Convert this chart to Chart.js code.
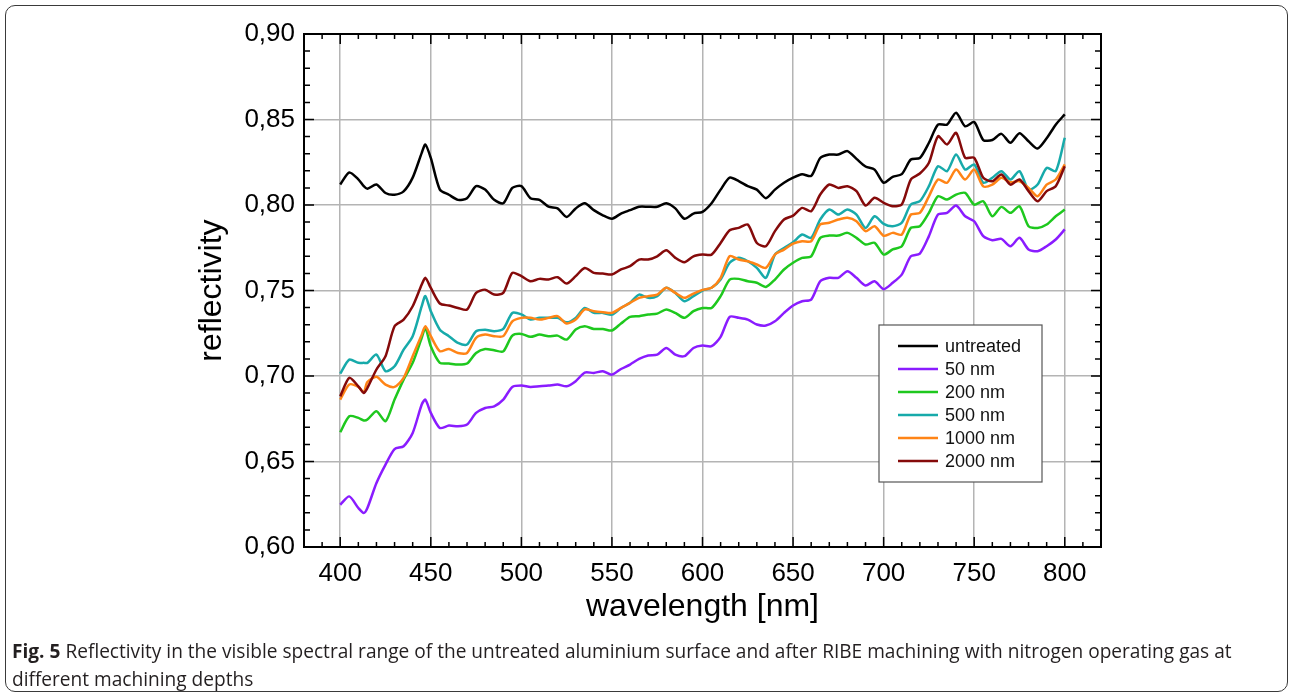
<!DOCTYPE html>
<html>
<head>
<meta charset="utf-8">
<script src="https://cdn.jsdelivr.net/npm/chart.js@4"></script>
<style>
  body { margin: 0; background: #fff; }
  #frame { position: absolute; left: 5px; top: 5px; width: 1281px; height: 685px; border: 1.5px solid #3a3a3a; border-radius: 10px; }
  #chart { position: absolute; left: 0; top: 0; }
  #caption { position: absolute; left: 12px; top: 637px; width: 1250px; font: 19.1px "Open Sans", sans-serif; line-height: 28px; color: #231f20; }
</style>
</head>
<body>
<div id="frame"></div>
<canvas id="chart" width="1293" height="640"></canvas>
<div id="caption"><b>Fig. 5</b> Reflectivity in the visible spectral range of the untreated aluminium surface and after RIBE machining with nitrogen operating gas at different machining depths</div>
<script>
const wavelength = [400, 405, 410, 413, 415, 420, 425, 430, 435, 440, 445, 447, 450, 455, 460, 465, 470, 475, 480, 485, 490, 495, 500,
  505, 510, 515, 520, 525, 530, 535, 540, 545, 550, 555, 560, 565, 570, 575, 580, 585, 590, 595, 600,
  605, 610, 615, 620, 625, 630, 635, 640, 645, 650, 655, 660, 665, 670, 675, 680, 685, 690, 695, 700,
  705, 710, 715, 720, 725, 730, 735, 740, 745, 750, 755, 760, 765, 770, 775, 780, 785, 790, 795, 800];

const untreated = [.812, .819, .815, .811, .8095, .812, .807, .806, .808, .816, .8305, .8354, .8275, .809, .806, .803, .804, .811, .809, .803, .801, .810, .811,
  .804, .803, .799, .798, .793, .798, .801, .797, .794, .792, .795, .797, .799, .799, .799, .801, .798, .792, .795, .796,
  .801, .809, .816, .814, .811, .809, .804, .809, .813, .816, .818, .817, .8275, .8295, .8295, .8315, .827, .8225, .8207, .813,
  .8165, .818, .8266, .8275, .8364, .847, .847, .854, .846, .8485, .838, .838, .8416, .8364, .842, .8373, .833, .839, .847, .853];

const nm50 = [.6247, .6296, .6228, .6199, .6228, .6374, .6482, .6573, .6589, .6667, .6833, .6862, .6784, .6696, .671, .6706, .6716, .6784, .6813, .6823, .6862, .6936, .6944,
  .6936, .694, .6944, .695, .694, .697, .702, .7018, .7028, .7008, .7041, .7067, .71, .712, .7125, .7164, .7125, .7116, .7164, .7178,
  .7174, .7229, .7346, .734, .733, .7301, .7295, .732, .7369, .7412, .7437, .7447, .7554, .7574, .7574, .7613, .7574, .7529, .7554, .7508,
  .7545, .7593, .77, .7716, .7818, .7944, .7954, .7997, .7934, .7905, .7818, .7794, .7802, .7759, .7808, .774, .773, .7759, .7798, .7857];

const nm200 = [.6671, .6765, .6755, .674, .6745, .6794, .6735, .6862, .6979, .7077, .7223, .7281, .7174, .7077, .7073, .7067, .7073, .7135, .7158, .715, .7144, .7236, .7246,
  .7229, .7242, .7232, .7236, .7213, .7272, .7291, .7275, .7275, .7266, .7307, .7346, .735, .7359, .7365, .7389, .7369, .734, .7379, .7398,
  .7398, .7467, .7564, .7568, .7554, .7545, .7521, .7564, .7623, .7662, .7691, .77, .7808, .7821, .7821, .7837, .7808, .7769, .7779, .771,
  .774, .7759, .7866, .7876, .7954, .8051, .8032, .8061, .8071, .8002, .8022, .7934, .7989, .7954, .7993, .7876, .7866, .7886, .7934, .7973];

const nm500 = [.7014, .7096, .7077, .7077, .7077, .7125, .7028, .7057, .7154, .7233, .7408, .7467, .7379, .7271, .7233, .7194, .7184, .7262, .7271, .7262, .7275, .7369, .736,
  .733, .734, .734, .734, .7314, .734, .7398, .7369, .7369, .7359, .7398, .7428, .7476, .7457, .7467, .7516, .7486, .7437, .7467, .75,
  .7516, .7564, .7662, .7691, .7671, .7632, .7574, .771, .7749, .7782, .7827, .7808, .7915, .7974, .7944, .7974, .7944, .7866, .7934, .789,
  .7876, .7896, .8003, .8022, .811, .8227, .8198, .8295, .8207, .8237, .813, .8159, .8198, .8149, .8198, .809, .812, .8217, .8198, .8393];

const nm1000 = [.6862, .695, .6936, .6905, .6965, .6995, .695, .6936, .6989, .7116, .7242, .7291, .7233, .7145, .7158, .7135, .7135, .7223, .7242, .7233, .7233, .732, .734,
  .734, .733, .734, .735, .7307, .733, .7389, .7379, .7373, .7369, .7398, .7428, .7457, .7467, .7476, .7516, .7486, .7457, .7482, .7504,
  .7516, .7574, .7701, .7681, .7671, .7652, .7632, .771, .7739, .7774, .7788, .7788, .7886, .7896, .7915, .7925, .7905, .7847, .7876, .782,
  .7837, .7827, .7944, .7954, .8051, .8149, .813, .8207, .8149, .8207, .8109, .8119, .8159, .8133, .8139, .81, .8051, .8119, .8149, .8237];

const nm2000 = [.6881, .6989, .694, .6901, .693, .7038, .7116, .7291, .733, .7408, .7535, .7574, .7515, .7424, .7412, .7398, .7389, .7486, .7505, .7476, .7486, .7603, .7584,
  .7554, .7568, .7564, .7578, .7541, .7584, .7632, .7603, .7599, .7594, .7623, .7642, .7681, .7681, .77, .7735, .7691, .7665, .77, .771,
  .771, .7778, .7852, .7866, .7886, .7778, .7759, .7847, .7915, .7938, .7983, .7964, .8061, .812, .81, .811, .8081, .7997, .8042, .8013,
  .7993, .8003, .8149, .8184, .8247, .8402, .8354, .8422, .8276, .8276, .8159, .8139, .8178, .8119, .8149, .8081, .8022, .8081, .811, .8227];

const seriesNames = ['untreated', '50 nm', '200 nm', '500 nm', '1000 nm', '2000 nm'];
const seriesValues = [untreated, nm50, nm200, nm500, nm1000, nm2000];
const seriesColors = ['#000000', '#8a1cff', '#1ec81e', '#17aaaa', '#ff8416', '#850a0a'];

const xTicks = [400, 450, 500, 550, 600, 650, 700, 750, 800];
const yTicks = [0.60, 0.65, 0.70, 0.75, 0.80, 0.85, 0.90];

const font = '"Liberation Sans", Arial, sans-serif';

// inward ticks on all four sides + closed frame
const frameTicks = {
  id: 'frameTicks',
  afterDatasetsDraw(chart) {
    const { ctx, chartArea: a, scales: { x, y } } = chart;
    ctx.save();
    ctx.strokeStyle = '#000';
    ctx.lineWidth = 1.5;
    ctx.beginPath();
    for (let v = 380; v <= 820; v += 10) {
      const px = x.getPixelForValue(v);
      const len = v % 50 === 0 ? 10 : 5;
      ctx.moveTo(px, a.bottom); ctx.lineTo(px, a.bottom - len);
      ctx.moveTo(px, a.top); ctx.lineTo(px, a.top + len);
    }
    for (let i = 60; i <= 90; i++) {
      const py = y.getPixelForValue(i / 100);
      const len = i % 5 === 0 ? 10 : 6;
      ctx.moveTo(a.left, py); ctx.lineTo(a.left + len, py);
      ctx.moveTo(a.right, py); ctx.lineTo(a.right - len, py);
    }
    ctx.stroke();
    ctx.lineWidth = 2;
    ctx.strokeRect(a.left, a.top, a.right - a.left, a.bottom - a.top);
    ctx.restore();
  }
};

const boxLegend = {
  id: 'boxLegend',
  afterDraw(chart) {
    const { ctx, chartArea: a } = chart;
    const bx = a.left + 575, by = a.top + 291, bw = 163, bh = 157;
    ctx.save();
    ctx.fillStyle = '#fff';
    ctx.fillRect(bx, by, bw, bh);
    ctx.strokeStyle = '#555';
    ctx.lineWidth = 1.2;
    ctx.strokeRect(bx, by, bw, bh);
    ctx.font = '18px ' + font;
    ctx.textBaseline = 'middle';
    chart.data.datasets.forEach((ds, i) => {
      const yy = by + 21 + i * 23;
      ctx.strokeStyle = ds.borderColor;
      ctx.lineWidth = 2.5;
      ctx.beginPath(); ctx.moveTo(bx + 19, yy); ctx.lineTo(bx + 59, yy); ctx.stroke();
      ctx.fillStyle = '#111';
      ctx.fillText(ds.label, bx + 66, yy + 1);
    });
    ctx.restore();
  }
};

new Chart(document.getElementById('chart'), {
  type: 'line',
  data: {
    datasets: seriesNames.map((name, i) => ({
      label: name,
      data: wavelength.map((w, j) => ({ x: w, y: seriesValues[i][j] })),
      borderColor: seriesColors[i],
      borderWidth: 2.5,
      pointRadius: 0,
      tension: 0.25,
      order: seriesNames.length - i
    }))
  },
  options: {
    responsive: false,
    animation: false,
    layout: { padding: { left: 180, right: 192, top: 34, bottom: 0 } },
    plugins: { legend: { display: false }, tooltip: { enabled: false } },
    scales: {
      x: {
        type: 'linear',
        min: 380, max: 820,
        afterBuildTicks: s => { s.ticks = xTicks.map(v => ({ value: v })); },
        afterFit: s => { s.height = 93; },
        grid: { color: '#b4b4b4', lineWidth: 1.5, drawTicks: false },
        border: { display: false },
        ticks: { color: '#000', padding: 11, font: { family: font, size: 26 } },
        title: { display: true, text: 'wavelength [nm]', color: '#000', padding: { top: 0, bottom: 14 }, font: { family: font, size: 32 } }
      },
      y: {
        min: 0.60, max: 0.90,
        afterBuildTicks: s => { s.ticks = yTicks.map(v => ({ value: v })); },
        afterFit: s => { s.width = 124; },
        grid: { color: '#b4b4b4', lineWidth: 1.5, drawTicks: false },
        border: { display: false },
        ticks: { color: '#000', padding: 9, font: { family: font, size: 26 }, callback: v => v.toFixed(2).replace('.', ',') },
        title: { display: true, text: 'reflectivity', color: '#000', padding: { top: 13, bottom: 0 }, font: { family: font, size: 32 } }
      }
    }
  },
  plugins: [frameTicks, boxLegend]
});
</script>
</body>
</html>
